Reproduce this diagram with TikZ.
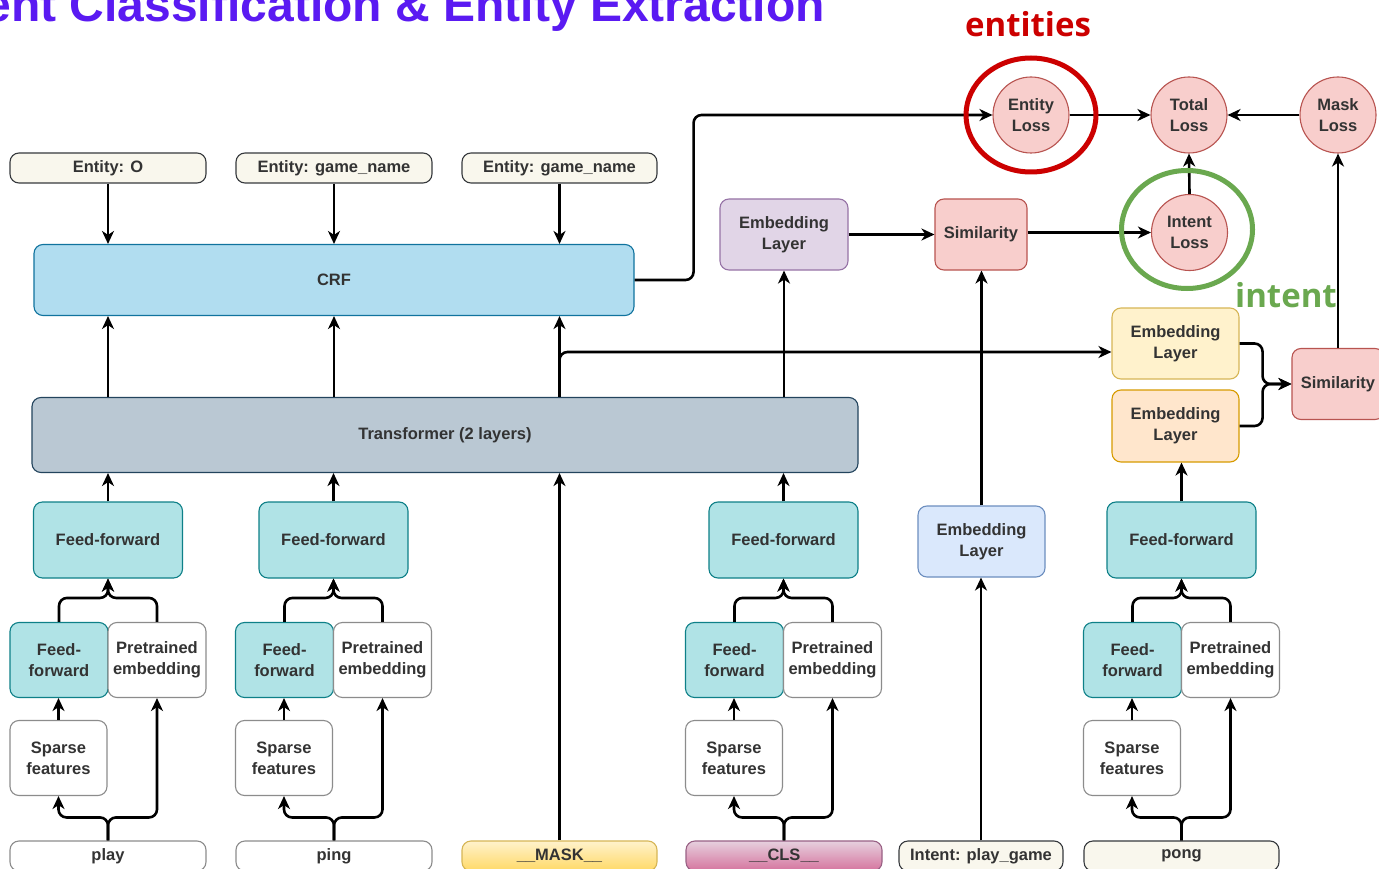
\documentclass[tikz,border=0pt]{standalone}
\usepackage{fontspec}
\setmainfont{Liberation Sans}
\newfontfamily\opensans{Open Sans}
\usetikzlibrary{arrows.meta,calc}

\definecolor{txt}{HTML}{333333}
\definecolor{titlecol}{HTML}{5A1AF2}
\definecolor{entred}{HTML}{CC0000}
\definecolor{intgreen}{HTML}{6AA84F}
\definecolor{creamF}{HTML}{F9F7ED}\definecolor{creamD}{HTML}{36393D}
\definecolor{crfF}{HTML}{B1DDF0}\definecolor{crfD}{HTML}{10739E}
\definecolor{trF}{HTML}{BAC8D3}\definecolor{trD}{HTML}{23445D}
\definecolor{ffF}{HTML}{B0E3E6}\definecolor{ffD}{HTML}{0E8088}
\definecolor{plainD}{HTML}{8C8C8C}
\definecolor{purF}{HTML}{E1D5E7}\definecolor{purD}{HTML}{9673A6}
\definecolor{redF}{HTML}{F8CECC}\definecolor{redD}{HTML}{B85450}
\definecolor{bluF}{HTML}{DAE8FC}\definecolor{bluD}{HTML}{6C8EBF}
\definecolor{yelF}{HTML}{FFF2CC}\definecolor{yelD}{HTML}{D6B656}\definecolor{yelG}{HTML}{FFD966}
\definecolor{orF}{HTML}{FFE6CC}\definecolor{orD}{HTML}{D79B00}
\definecolor{pinkF}{HTML}{E6D0DE}\definecolor{pinkG}{HTML}{D5739D}\definecolor{pinkD}{HTML}{996185}

\begin{document}
\begin{tikzpicture}[x=1pt,y=-1pt,
  lbl/.style={font=\fontsize{16.5}{21}\selectfont\bfseries, text=txt, align=center},
  box/.style={lbl, draw, rounded corners=9pt, line width=1.1pt, inner sep=0pt},
  tagbox/.style={box, fill=creamF, draw=creamD, minimum height=30pt},
  wordbox/.style={box, fill=white, draw=plainD, minimum height=30pt},
  crfbox/.style={box, fill=crfF, draw=crfD},
  trbox/.style={box, fill=trF, draw=trD},
  ffbox/.style={box, fill=ffF, draw=ffD},
  plainbox/.style={box, fill=white, draw=plainD},
  purbox/.style={box, fill=purF, draw=purD},
  redbox/.style={box, fill=redF, draw=redD},
  blubox/.style={box, fill=bluF, draw=bluD},
  yelbox/.style={box, fill=yelF, draw=yelD},
  orbox/.style={box, fill=orF, draw=orD},
  lossnode/.style={lbl, circle, draw=redD, fill=redF, line width=1.1pt, minimum size=76pt, inner sep=0pt},
  arr/.style={line width=2.6pt, rounded corners=8pt, -{Stealth[length=13pt,width=12pt,inset=4pt]}},
  ring/.style={line width=5pt}
]
\useasboundingbox (0,0) rectangle (1379,869);
\clip (0,0) rectangle (1379,869);
\fill[white] (0,0) rectangle (1379,869);

% heading and callouts
\node[anchor=base east, inner sep=0pt, text=titlecol, font=\fontsize{48}{48}\selectfont\bfseries] (title) at (825,21.5) {ent Classification \& Entity Extraction};
\node[anchor=base, inner sep=0pt, text=entred, font=\opensans\fontsize{33}{33}\selectfont\bfseries] (entlbl) at (1028,37) {entities};
\node[anchor=base, inner sep=0pt, text=intgreen, font=\opensans\fontsize{33}{33}\selectfont\bfseries] (intlbl) at (1286,307) {intent};

% entity tags
\node[tagbox, minimum width=196pt] (e1) at (108,168) {Entity: O};
\node[tagbox, minimum width=196pt] (e2) at (334,168) {Entity: game\_name};
\node[tagbox, minimum width=195pt] (e3) at (559.5,168) {Entity: game\_name};

% main blocks
\node[crfbox, minimum width=600pt, minimum height=71pt] (crf) at (334,280) {CRF};
\node[trbox, minimum width=826pt, minimum height=75pt] (trans) at (445,435) {Transformer (2 layers)};

% feed-forward layers
\node[ffbox, minimum width=149pt, minimum height=76pt] (ff1) at (108,540) {Feed-forward};
\node[ffbox, minimum width=149pt, minimum height=76pt] (ff2) at (333.5,540) {Feed-forward};
\node[ffbox, minimum width=149pt, minimum height=76pt] (ff3) at (783.5,540) {Feed-forward};
\node[ffbox, minimum width=149pt, minimum height=76pt] (ff4) at (1181.5,540) {Feed-forward};

% token branches
\foreach \i/\cx in {1/59, 2/284.5, 3/734.5, 4/1132.5}{
  \node[ffbox, minimum width=98pt, minimum height=75pt] (fs\i) at (\cx,660) {Feed-\\forward};
  \node[plainbox, minimum width=98pt, minimum height=75pt] (pe\i) at (\cx+98,660) {Pretrained\\embedding};
  \node[plainbox, minimum width=97pt, minimum height=75pt] (sp\i) at (\cx-0.5,758) {Sparse\\features};
}

% input tokens
\node[wordbox, minimum width=196pt] (w1) at (108,856) {play};
\node[wordbox, minimum width=196pt] (w2) at (334,856) {ping};
\node[box, draw=yelD, top color=yelF, bottom color=yelG, minimum width=195pt, minimum height=30pt] (mask) at (559.5,856) {\_\_MASK\_\_};
\node[box, draw=pinkD, top color=pinkF, bottom color=pinkG, minimum width=196pt, minimum height=30pt] (w3) at (784,856) {\_\_CLS\_\_};
\node[tagbox, minimum width=164pt] (intag) at (981,856) {Intent: play\_game};
\node[tagbox, minimum width=195pt] (w4) at (1181.5,856) {pong};

% intent side
\node[purbox, minimum width=128pt, minimum height=71pt] (embP) at (784,234.5) {Embedding\\Layer};
\node[redbox, minimum width=92pt, minimum height=71pt] (simM) at (981,234.5) {Similarity};
\node[blubox, minimum width=127pt, minimum height=71pt] (embB) at (981.5,541.5) {Embedding\\Layer};
\node[yelbox, minimum width=127pt, minimum height=71pt] (embY) at (1175.5,343.5) {Embedding\\Layer};
\node[orbox, minimum width=127pt, minimum height=72pt] (embO) at (1175.5,426) {Embedding\\Layer};
\node[redbox, minimum width=92pt, minimum height=71pt] (simR) at (1338,384) {Similarity};

% losses
\node[lossnode] (eloss) at (1031,115) {Entity\\Loss};
\node[lossnode] (tloss) at (1189,115) {Total\\Loss};
\node[lossnode] (mloss) at (1338,115) {Mask\\Loss};
\node[lossnode] (iloss) at (1189.5,232.5) {Intent\\Loss};

% tags into CRF, transformer into CRF
\foreach \e in {e1,e2,e3}{
  \draw[arr] (\e.south) -- (\e.south |- crf.north);
  \draw[arr] (trans.north -| \e.south) -- (crf.south -| \e.south);
}
\draw[arr] (crf.east) -- ++(59,0) |- (eloss.west);

% token branches into feed-forward layers
\foreach \i in {1,2,3,4}{
  \draw[arr] (fs\i.north) -- ++(0,-24) -| (ff\i.south);
  \draw[arr] (pe\i.north) -- ++(0,-24) -| (ff\i.south);
  \draw[arr] (sp\i.north) -- (sp\i.north |- fs\i.south);
  \draw[arr] (w\i.north) -- ++(0,-23) -| (sp\i.south);
  \draw[arr] (w\i.north) -- ++(0,-23) -| (pe\i.south);
}
\draw[arr] (ff1.north) -- (ff1.north |- trans.south);
\draw[arr] (ff2.north) -- (ff2.north |- trans.south);
\draw[arr] (ff3.north) -- (ff3.north |- trans.south);
\draw[arr] (mask.north) -- (mask.north |- trans.south);
\draw[arr] (ff4.north) -- (ff4.north |- embO.south);

% sentence embeddings and similarities
\coordinate (jn) at (559.5,352);
\draw[arr] (trans.north -| jn) -- (jn) -- (jn -| embY.west);
\draw[arr] (trans.north -| embP.south) -- (embP.south);
\draw[arr] (embP.east) -- (simM.west);
\draw[arr] (simM.east |- iloss.west) -- (iloss.west);
\draw[arr] (embB.north) -- (embB.north |- simM.south);
\draw[arr] (intag.north) -- (intag.north |- embB.south);
\draw[arr] (embY.east) -- ++(23,0) |- (simR.west);
\draw[arr] (embO.east) -- ++(23,0) |- (simR.west);

% losses
\draw[arr] (simR.north) -- (mloss.south);
\draw[arr] (eloss.east) -- (tloss.west);
\draw[arr] (mloss.west) -- (tloss.east);
\draw[arr] (iloss.north) -- (tloss.south);

% highlight rings
\draw[ring, draw=entred] (1031,115) ellipse [x radius=65, y radius=57];
\draw[ring, draw=intgreen] (1187,229.5) ellipse [x radius=65.5, y radius=59];
\end{tikzpicture}
\end{document}
